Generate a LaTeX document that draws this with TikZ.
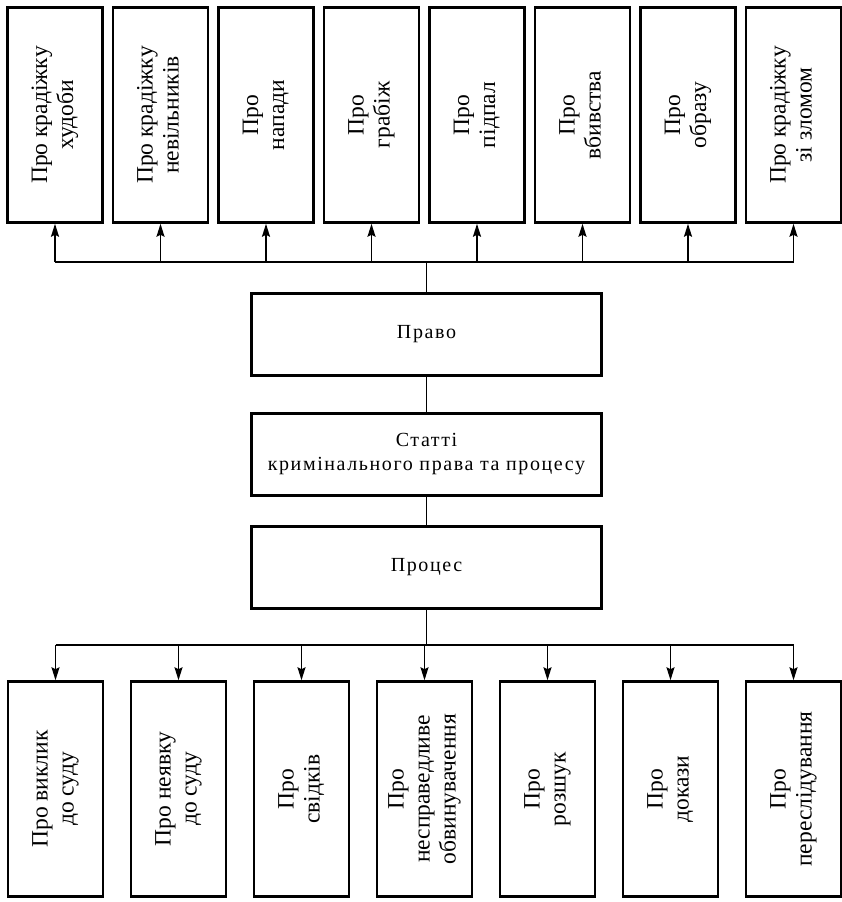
\documentclass[tikz,border=0pt]{standalone}
\usepackage{fontspec}
\setmainfont{Liberation Serif}
\newfontfamily\widefont[LetterSpace=8]{Liberation Serif}
\usepackage{graphicx}
\usetikzlibrary{positioning,arrows.meta}
\tikzstyle{topbox}=[draw,line width=2.5pt,minimum width=95pt,minimum
height=215pt,inner sep=0pt,font=\fontsize{23.5}{26}\selectfont]
\tikzstyle{midbox}=[draw,line width=2.5pt,minimum width=350pt,minimum
height=82pt,align=center,font=\widefont\fontsize{20}{24}\selectfont]
\tikzstyle{path}=[-{Stealth[length=13pt,width=8pt,inset=2pt]},line width=1.8pt]
\tikzstyle{bus}=[line width=1.3pt]
\newcommand{\vtext}[1]{\rotatebox{90}{\begin{tabular}{@{}c@{}}#1\end{tabular}}}

\begin{document}
\begin{tikzpicture}[x=1pt,y=-1pt, node distance=105.5pt, on grid]
  \useasboundingbox (0,0) rectangle (842,902);

  % statutes on top
  \node[topbox] (t1) at (55,115) {\vtext{Про крадіжку\\худоби}};
  \node[topbox, right=of t1] (t2) {\vtext{Про крадіжку\\невільників}};
  \node[topbox, right=of t2] (t3) {\vtext{Про\\напади}};
  \node[topbox, right=of t3] (t4) {\vtext{Про\\грабіж}};
  \node[topbox, right=of t4] (t5) {\vtext{Про\\підпал}};
  \node[topbox, right=of t5] (t6) {\vtext{Про\\вбивства}};
  \node[topbox, right=of t6] (t7) {\vtext{Про\\образу}};
  \node[topbox, right=of t7] (t8) {\vtext{Про крадіжку\\зі зломом}};

  \node[midbox] (pravo) at (426.5,334.5) {Право};
  \node[midbox, below=120pt of pravo] (statti) {Статті\\кримінального права та процесу};
  \node[midbox, below=113pt of statti] (proces) {Процес};

  % statutes below
  \node[topbox] (b1) at (55.5,789) {\vtext{Про виклик\\до суду}};
  \node[topbox, right=123pt of b1] (b2) {\vtext{Про неявку\\до суду}};
  \node[topbox, right=123pt of b2] (b3) {\vtext{Про\\свідків}};
  \node[topbox, right=123pt of b3] (b4) {\vtext{Про\\несправедливе\\обвинувачення}};
  \node[topbox, right=123pt of b4] (b5) {\vtext{Про\\розшук}};
  \node[topbox, right=123pt of b5] (b6) {\vtext{Про\\докази}};
  \node[topbox, right=123pt of b6] (b7) {\vtext{Про\\переслідування}};

  \coordinate (up) at (426.5,262);
  \coordinate (down) at (426.5,645);

  \draw[bus] (pravo) -- (statti) -- (proces);
  \draw[bus] (pravo.north) -- (up);
  \draw[bus] (up -| t1) -- (up -| t8);
  \draw[bus] (proces.south) -- (down);
  \draw[bus] (down -| b1) -- (down -| b7);

  \draw[path] (up -| t1) -- (t1.south);
  \draw[path] (up -| t2) -- (t2.south);
  \draw[path] (up -| t3) -- (t3.south);
  \draw[path] (up -| t4) -- (t4.south);
  \draw[path] (up -| t5) -- (t5.south);
  \draw[path] (up -| t6) -- (t6.south);
  \draw[path] (up -| t7) -- (t7.south);
  \draw[path] (up -| t8) -- (t8.south);

  \draw[path] (down -| b1) -- (b1.north);
  \draw[path] (down -| b2) -- (b2.north);
  \draw[path] (down -| b3) -- (b3.north);
  \draw[path] (down -| b4) -- (b4.north);
  \draw[path] (down -| b5) -- (b5.north);
  \draw[path] (down -| b6) -- (b6.north);
  \draw[path] (down -| b7) -- (b7.north);

\end{tikzpicture}
\end{document}
